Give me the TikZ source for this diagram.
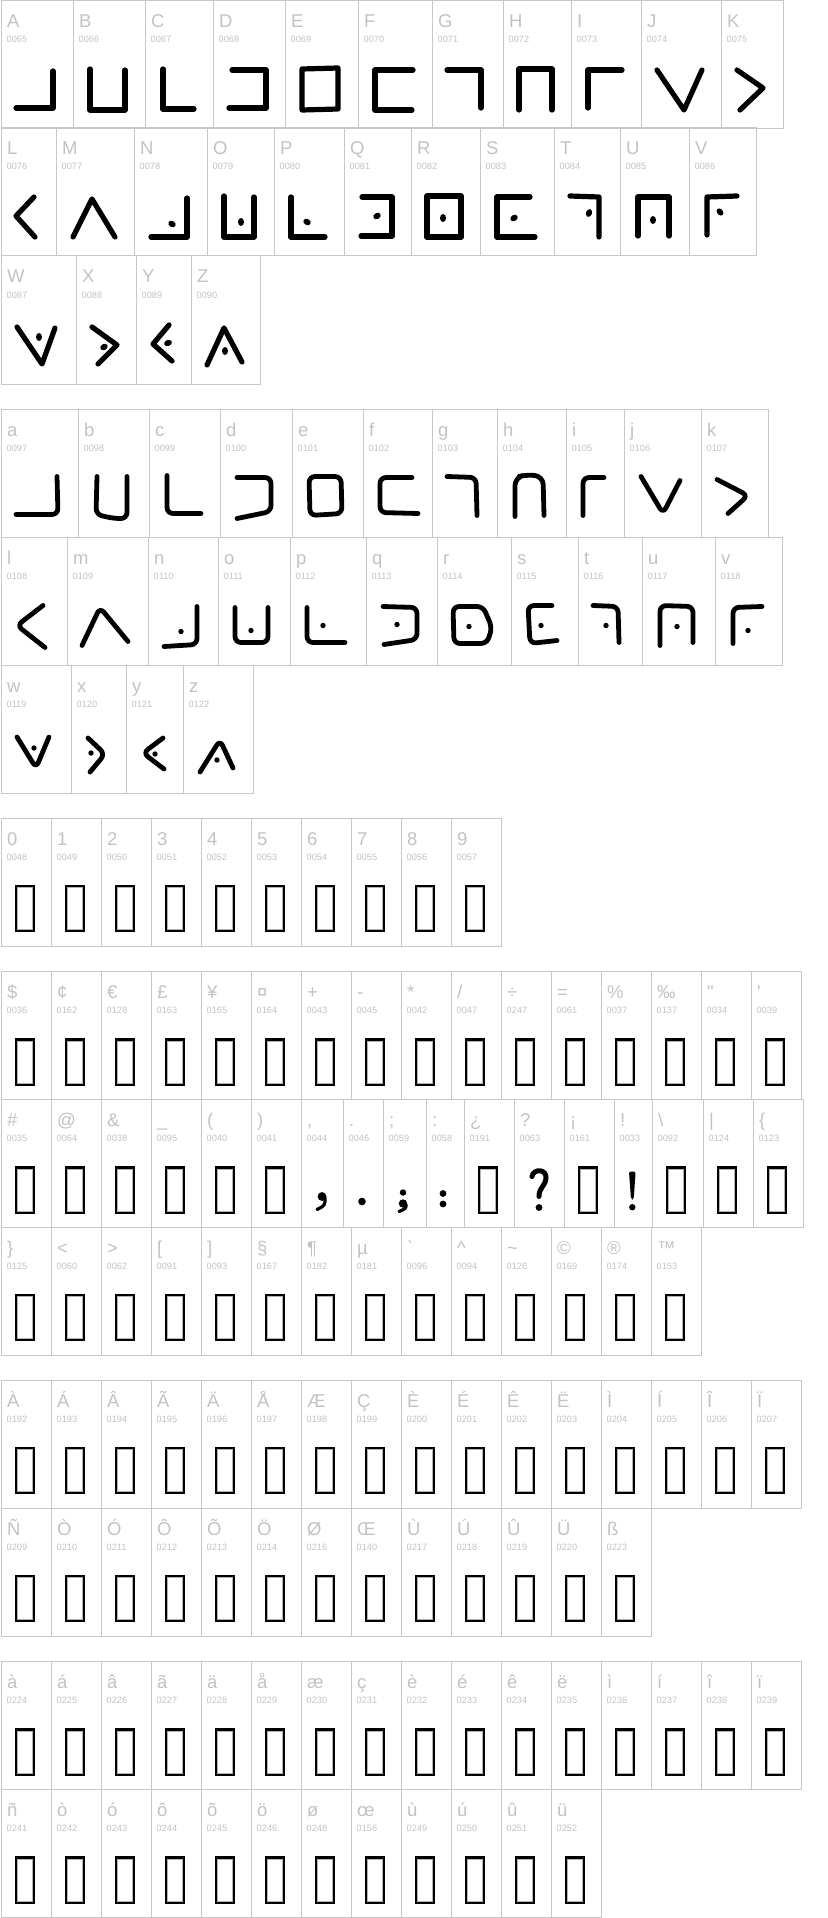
\documentclass[tikz,border=0pt]{standalone}
\usepackage{fontspec}
\newfontfamily\labelfont{Liberation Sans}
\usetikzlibrary{positioning}

\definecolor{linegray}{HTML}{C8C8C8}
\definecolor{labelgray}{HTML}{C2C2C2}

\tikzset{
  cellbox/.style={draw=linegray, line width=1pt, rectangle, inner sep=0pt, outer sep=0pt, minimum height=128pt},
  charlabel/.style={anchor=base west, inner sep=0pt, text=labelgray, font=\labelfont\fontsize{18.5}{18.5}\selectfont},
  codelabel/.style={anchor=base west, inner sep=0pt, text=labelgray, font=\labelfont\fontsize{9.2}{9.2}\selectfont},
  pen/.style={line width=5.2pt, line cap=round, line join=round},
  softpen/.style={pen, line width=4.8pt, rounded corners=6pt},
  missing/.style={draw=black, line width=2.1pt},
}

% one cell of the map: name, left, top, width, character, code
\newcommand{\mapcell}[6]{%
  \node[cellbox, minimum width=#4pt, anchor=north west] (#1) at ({#2},{#3}) {};
  \node[charlabel] (#1-ch) at ([shift={(6pt,-27pt)}]#1.north west) {#5};
  \node[codelabel] (#1-cd) at ([shift={(5.5pt,-42pt)}]#1.north west) {#6};
}
\newcommand{\nobox}[1]{%
  \draw[missing] ([shift={(15pt,-68pt)}]#1.north west) rectangle ([shift={(33pt,-113pt)}]#1.north west);
  \draw[gray!60, line width=0.6pt] ([shift={(16.6pt,-69.6pt)}]#1.north west) rectangle ([shift={(31.4pt,-111.4pt)}]#1.north west);
}
\newcommand{\glyph}[2]{\begin{scope}[shift={(#1.north west)}] #2 \end{scope}}
\newcommand{\bigdot}[3][0]{\fill[rotate around={#1:(#2,#3)}] (#2,#3) ellipse [x radius=3, y radius=4];}
\newcommand{\smalldot}[2]{\fill (#1,#2) circle [radius=2.7];}

\begin{document}
\begin{tikzpicture}[x=1pt, y=-1pt]
  \useasboundingbox (0,0) rectangle (827,1918);

  % upper case
  \foreach \ch/\cd/\xx/\ww in {A/0065/1/72, B/0066/73/72, C/0067/145/68, D/0068/213/72, E/0069/285/73, F/0070/358/74, G/0071/432/71, H/0072/503/68, I/0073/571/70, J/0074/641/80, K/0075/721/62}
    {\mapcell{up-\ch}{\xx}{1}{\ww}{\ch}{\cd}}
  \foreach \ch/\cd/\xx/\ww in {L/0076/1/55, M/0077/56/78, N/0078/134/73, O/0079/207/67, P/0080/274/70, Q/0081/344/67, R/0082/411/69, S/0083/480/74, T/0084/554/66, U/0085/620/69, V/0086/689/67}
    {\mapcell{up-\ch}{\xx}{128}{\ww}{\ch}{\cd}}
  \foreach \ch/\cd/\xx/\ww in {W/0087/1/75, X/0088/76/60, Y/0089/136/55, Z/0090/191/69}
    {\mapcell{up-\ch}{\xx}{256}{\ww}{\ch}{\cd}}

  \glyph{up-A}{\draw[pen] (15,107) -- (52,107) -- (52,70);}
  \glyph{up-B}{\draw[pen] (17,68) -- (17,109) -- (52,109) -- (52,69);}
  \glyph{up-C}{\draw[pen] (18,68) -- (18,108) -- (49,108);}
  \glyph{up-D}{\draw[pen] (19,69) -- (53,69) -- (53,107) -- (16,107);}
  \glyph{up-E}{\draw[pen] (17,68) -- (53,67) -- (53,108) -- (17,109) -- cycle;}
  \glyph{up-F}{\draw[pen] (55,69) -- (17,69) -- (17,109) -- (54,109);}
  \glyph{up-G}{\draw[pen] (15,69) -- (49,69) -- (49,107);}
  \glyph{up-H}{\draw[pen] (16,109) -- (16,68) -- (49,68) -- (49,109);}
  \glyph{up-I}{\draw[pen] (17,107) -- (17,69) -- (51,69);}
  \glyph{up-J}{\draw[pen] (16,69) -- (43,109) -- (61,69);}
  \glyph{up-K}{\draw[pen] (16,69) -- (42,87) -- (19,109);}
  \glyph{up-L}{\draw[pen] (33,69) -- (15,88) -- (34,109);}
  \glyph{up-M}{\draw[pen] (17,109) -- (36,71) -- (59,109);}
  \glyph{up-N}{\draw[pen] (17,109) -- (53,109) -- (53,70); \bigdot[60]{38}{96}}
  \glyph{up-O}{\draw[pen] (17,68) -- (17,109) -- (47,109) -- (47,69); \bigdot{34}{94}}
  \glyph{up-P}{\draw[pen] (17,69) -- (17,109) -- (51,109); \bigdot[60]{33}{94}}
  \glyph{up-Q}{\draw[pen] (18,69) -- (48,69) -- (48,108) -- (17,108); \bigdot[-60]{33}{88}}
  \glyph{up-R}{\draw[pen] (16,68) -- (50,68) -- (50,109) -- (16,109) -- cycle; \bigdot{32}{90}}
  \glyph{up-S}{\draw[pen] (50,69) -- (17,69) -- (17,109) -- (55,109); \bigdot[-60]{34}{90}}
  \glyph{up-T}{\draw[pen] (16,68) -- (45,69) -- (45,109); \bigdot[-20]{35}{85}}
  \glyph{up-U}{\draw[pen] (18,108) -- (18,69) -- (49,69) -- (49,108); \bigdot{33}{92}}
  \glyph{up-V}{\draw[pen] (18,107) -- (18,69) -- (48,68); \bigdot[40]{31}{84}}
  \glyph{up-W}{\draw[pen] (16,71) -- (41,108) -- (54,72); \bigdot{38}{81}}
  \glyph{up-X}{\draw[pen] (16,71) -- (41,89) -- (22,108); \bigdot[-60]{28}{91}}
  \glyph{up-Y}{\draw[pen] (33,69) -- (17,88) -- (36,105); \bigdot[-70]{32}{87}}
  \glyph{up-Z}{\draw[pen] (16,109) -- (33,72) -- (51,106); \bigdot{34}{95}}

  % lower case
  \foreach \ch/\cd/\xx/\ww in {a/0097/1/77, b/0098/78/71, c/0099/149/71, d/0100/220/72, e/0101/292/71, f/0102/363/69, g/0103/432/65, h/0104/497/69, i/0105/566/58, j/0106/624/77, k/0107/701/67}
    {\mapcell{lo-\ch}{\xx}{409.5}{\ww}{\ch}{\cd}}
  \foreach \ch/\cd/\xx/\ww in {l/0108/1/66, m/0109/67/81, n/0110/148/70, o/0111/218/72, p/0112/290/76, q/0113/366/71, r/0114/437/74, s/0115/511/67, t/0116/578/64, u/0117/642/73, v/0118/715/67}
    {\mapcell{lo-\ch}{\xx}{537.5}{\ww}{\ch}{\cd}}
  \foreach \ch/\cd/\xx/\ww in {w/0119/1/70, x/0120/71/55, y/0121/126/57, z/0122/183/70}
    {\mapcell{lo-\ch}{\xx}{665}{\ww}{\ch}{\cd}}

  \glyph{lo-a}{\draw[softpen] (15,105) -- (57,105) -- (56,67);}
  \glyph{lo-b}{\draw[softpen] (19,67) -- (18,105) -- (36,109) -- (49,109) -- (49,67);}
  \glyph{lo-c}{\draw[softpen] (18,66) -- (18,104) -- (52,104);}
  \glyph{lo-d}{\draw[softpen] (17,68) -- (51,68) -- (51,102) -- (17,109);}
  \glyph{lo-e}{\draw[softpen] (17,67) -- (49,67) -- (50,104) -- (18,106) -- cycle;}
  \glyph{lo-f}{\draw[softpen] (49,68) -- (17,68) -- (17,103) -- (55,104);}
  \glyph{lo-g}{\draw[softpen] (15,67) -- (44,68) -- (45,106);}
  \glyph{lo-h}{\draw[softpen, rounded corners=8pt] (18,107) -- (18,68) -- (30,65) -- (46,67) -- (47,106);}
  \glyph{lo-i}{\draw[softpen] (17,106) -- (17,68) -- (38,68);}
  \glyph{lo-j}{\draw[softpen] (17,67) -- (39,104) -- (56,71);}
  \glyph{lo-k}{\draw[softpen] (16,70) -- (47,86) -- (27,104);}
  \glyph{lo-l}{\draw[softpen] (42,68) -- (16,88) -- (44,110);}
  \glyph{lo-m}{\draw[softpen] (15,108) -- (33,70) -- (61,104);}
  \glyph{lo-n}{\draw[softpen] (16,109) -- (49,107) -- (49,69); \smalldot{33}{94}}
  \glyph{lo-o}{\draw[softpen] (17,70) -- (17,105) -- (50,105) -- (50,70); \smalldot{33}{93}}
  \glyph{lo-p}{\draw[softpen] (17,70) -- (17,105) -- (55,105); \smalldot{33}{88}}
  \glyph{lo-q}{\draw[softpen] (17,69) -- (51,70) -- (51,102) -- (18,107); \smalldot{31}{87}}
  \glyph{lo-r}{\draw[softpen] (16,69) -- (46,69) -- (55,90) -- (50,106) -- (17,106) -- cycle; \smalldot{32}{89}}
  \glyph{lo-s}{\draw[softpen] (41,68) -- (17,68) -- (19,106) -- (46,103); \smalldot{30}{88}}
  \glyph{lo-t}{\draw[softpen] (15,68) -- (40,69) -- (41,105); \smalldot{28}{88}}
  \glyph{lo-u}{\draw[softpen] (18,108) -- (18,68) -- (51,69) -- (51,105); \smalldot{35}{89}}
  \glyph{lo-v}{\draw[softpen] (18,106) -- (18,70) -- (47,69); \smalldot{33}{93}}
  \glyph{lo-w}{\draw[softpen] (16,72) -- (35,103) -- (48,72); \smalldot{33}{83}}
  \glyph{lo-x}{\draw[softpen] (17,73) -- (34,89) -- (19,107); \smalldot{20}{88}}
  \glyph{lo-y}{\draw[softpen] (37,73) -- (17,88) -- (38,104); \smalldot{29}{89}}
  \glyph{lo-z}{\draw[softpen] (17,107) -- (37,75) -- (50,103); \smalldot{34}{95}}

  % digits
  \foreach \ch/\cd [count=\i from 0] in {0/0048, 1/0049, 2/0050, 3/0051, 4/0052, 5/0053, 6/0054, 7/0055, 8/0056, 9/0057}
    {\mapcell{dig-\i}{1+50*\i}{818}{50}{\ch}{\cd} \nobox{dig-\i}}

  % symbols
  \foreach \ch/\cd [count=\i from 0] in {\$/0036, ¢/0162, €/0128, £/0163, ¥/0165, ¤/0164, +/0043, -/0045, */0042, {/}/0047, ÷/0247, =/0061, \%/0037, ‰/0137, "/0034, '/0039}
    {\mapcell{symA-\i}{1+50*\i}{971.5}{50}{\ch}{\cd} \nobox{symA-\i}}
  \foreach \ch/\cd/\xx/\ww [count=\i from 0] in {\#/0035/1/50, @/0064/51/50, \&/0038/101/50, \_/0095/151/50, {(}/0040/201/50, {)}/0041/251/50, {,}/0044/301/42, ./0046/343/40, ;/0059/383/43, :/0058/426/38, ¿/0191/464/50, ?/0063/514/50, ¡/0161/564/50, !/0033/614/38, \textbackslash/0092/652/51, |/0124/703/50, \{/0123/753/50}
    {\mapcell{symB-\i}{\xx}{1099.5}{\ww}{\ch}{\cd}}
  \foreach \k in {0,1,2,3,4,5,10,12,14,15,16}
    {\nobox{symB-\k}}
  \glyph{symB-6}{\fill (21,97) circle [radius=4.4]; \draw[pen, line width=3.2pt] (24,98) .. controls (24,106) .. (16,110);}
  \glyph{symB-7}{\fill (19,102) circle [radius=3.8];}
  \glyph{symB-8}{\fill (20,93) circle [radius=3.2]; \fill (20,104) circle [radius=4.2]; \draw[pen, line width=3.2pt] (23,105) .. controls (23,109) .. (16,112);}
  \glyph{symB-9}{\fill (17,94) circle [radius=3.4]; \fill (17,104.5) circle [radius=3.4];}
  \glyph{symB-11}{\draw[pen, line width=5pt] (18,77) .. controls (19,69) and (33,69) .. (32,79) .. controls (31,87) and (25,88) .. (25,97); \fill (25,108) circle [radius=3.4];}
  \glyph{symB-13}{\fill[rounded corners=2pt] (15,72) -- (21.6,72) -- (19.7,100) -- (17,100) -- cycle; \fill (18.3,107.7) circle [radius=3.2];}
  \foreach \ch/\cd [count=\i from 0] in {\}/0125, </0060, >/0062, {[}/0091, {]}/0093, §/0167, ¶/0182, µ/0181, `/0096, \textasciicircum/0094, \textasciitilde/0126, ©/0169, ®/0174, ™/0153}
    {\mapcell{symC-\i}{1+50*\i}{1227}{50}{\ch}{\cd} \nobox{symC-\i}}

  % accented capitals
  \foreach \ch/\cd [count=\i from 0] in {À/0192, Á/0193, Â/0194, Ã/0195, Ä/0196, Å/0197, Æ/0198, Ç/0199, È/0200, É/0201, Ê/0202, Ë/0203, Ì/0204, Í/0205, Î/0206, Ï/0207}
    {\mapcell{accA-\i}{1+50*\i}{1380}{50}{\ch}{\cd} \nobox{accA-\i}}
  \foreach \ch/\cd [count=\i from 0] in {Ñ/0209, Ò/0210, Ó/0211, Ô/0212, Õ/0213, Ö/0214, Ø/0216, Œ/0140, Ù/0217, Ú/0218, Û/0219, Ü/0220, ß/0223}
    {\mapcell{accB-\i}{1+50*\i}{1508}{50}{\ch}{\cd} \nobox{accB-\i}}

  % accented small letters
  \foreach \ch/\cd [count=\i from 0] in {à/0224, á/0225, â/0226, ã/0227, ä/0228, å/0229, æ/0230, ç/0231, è/0232, é/0233, ê/0234, ë/0235, ì/0236, í/0237, î/0238, ï/0239}
    {\mapcell{accC-\i}{1+50*\i}{1661.5}{50}{\ch}{\cd} \nobox{accC-\i}}
  \foreach \ch/\cd [count=\i from 0] in {ñ/0241, ò/0242, ó/0243, ô/0244, õ/0245, ö/0246, ø/0248, œ/0156, ù/0249, ú/0250, û/0251, ü/0252}
    {\mapcell{accD-\i}{1+50*\i}{1789.5}{50}{\ch}{\cd} \nobox{accD-\i}}
\end{tikzpicture}
\end{document}
